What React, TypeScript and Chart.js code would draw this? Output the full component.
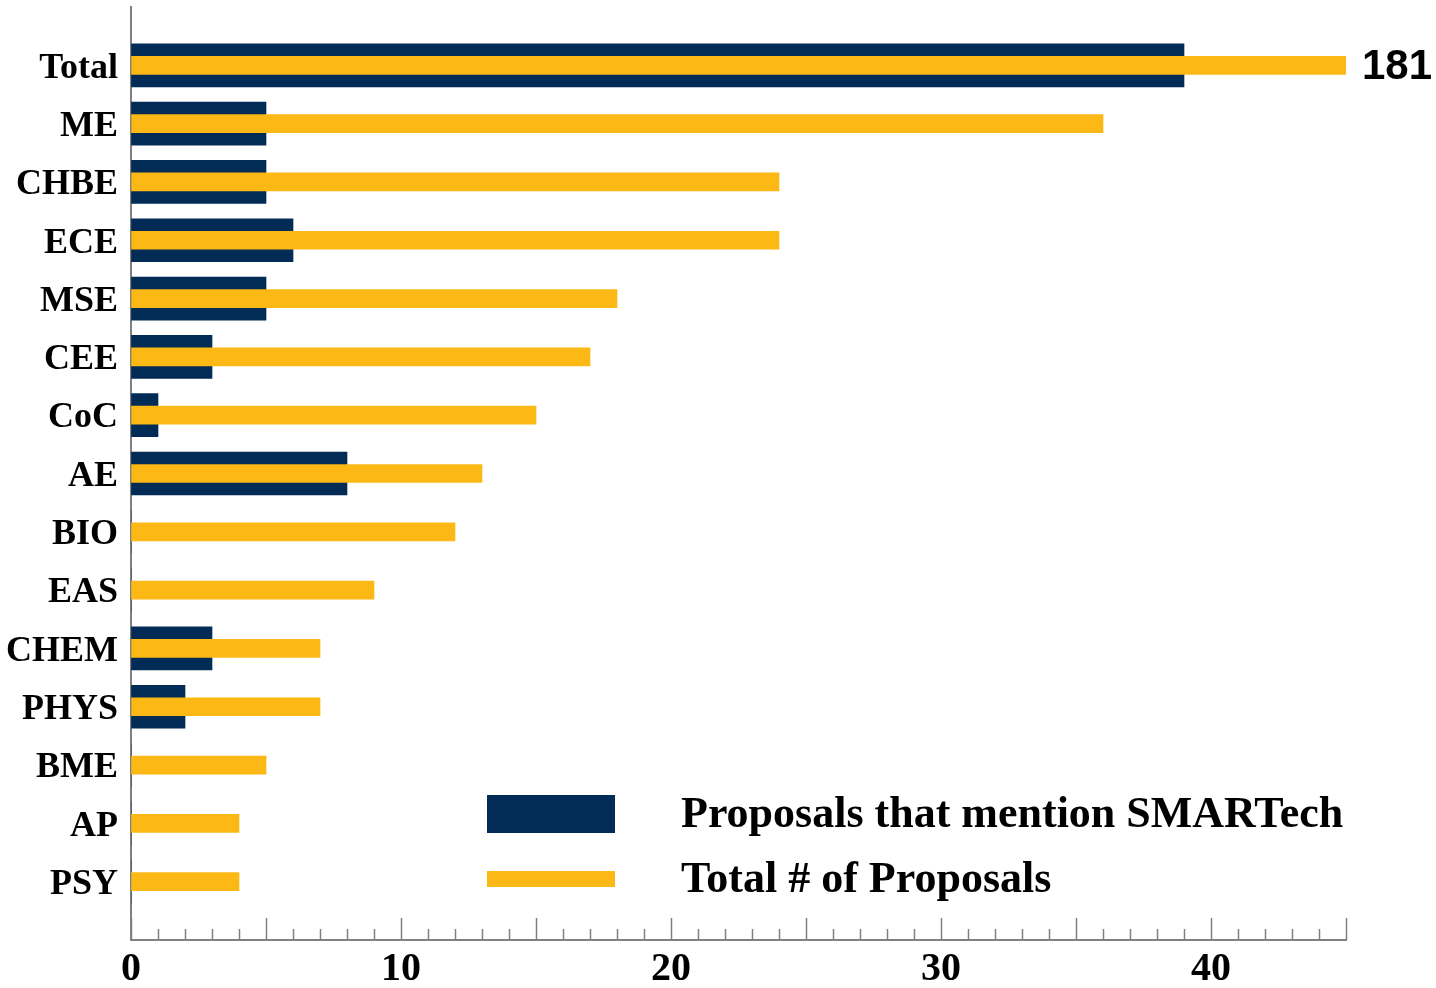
import React, { useEffect, useRef } from 'react';
import { Chart, registerables } from 'chart.js';

Chart.register(...registerables);

const categories = ['Total', 'ME', 'CHBE', 'ECE', 'MSE', 'CEE', 'CoC', 'AE', 'BIO', 'EAS', 'CHEM', 'PHYS', 'BME', 'AP', 'PSY'];
const smartechMentions = [39, 5, 5, 6, 5, 3, 1, 8, 0, 0, 3, 2, 0, 0, 0];
const totalProposals = [181, 36, 24, 24, 18, 17, 15, 13, 12, 9, 7, 7, 5, 4, 4];
const xTickLabels = [0, 10, 20, 30, 40];
const seriesNames = ['Proposals that mention SMARTech', 'Total # of Proposals'];

const NAVY = '#022B56';
const GOLD = '#FCB815';
const AXIS = '#808080';
const SERIF = "'Liberation Serif', 'Times New Roman', serif";

const tickMarksPlugin = {
  id: 'tickMarks',
  afterDraw(chart: any) {
    const scale = chart.scales.x;
    const ctx = chart.ctx;
    const bottom = chart.chartArea.bottom;
    ctx.save();
    ctx.strokeStyle = AXIS;
    ctx.lineWidth = 1.5;
    scale.ticks.forEach((t: any) => {
      const px = Math.round(scale.getPixelForValue(t.value)) + 0.5;
      const len = t.value % 5 === 0 ? 22 : 11;
      ctx.beginPath();
      ctx.moveTo(px, bottom);
      ctx.lineTo(px, bottom - len);
      ctx.stroke();
    });
    ctx.restore();
  },
};

const valueLabelPlugin = {
  id: 'valueLabel',
  afterDatasetsDraw(chart: any) {
    const ctx = chart.ctx;
    const meta = chart.getDatasetMeta(1);
    const ds = chart.data.datasets[1];
    meta.data.forEach((el: any, i: number) => {
      const v = ds.data[i];
      if (v == null) return;
      if (el.x > chart.chartArea.right) {
        ctx.save();
        ctx.font = "bold 42px 'Liberation Sans', Arial, sans-serif";
        ctx.fillStyle = '#000';
        ctx.textAlign = 'left';
        ctx.textBaseline = 'middle';
        ctx.fillText(String(v), chart.chartArea.right + 16, el.y + 2);
        ctx.restore();
      }
    });
  },
};

const legendPlugin = {
  id: 'customLegend',
  afterDraw(chart: any) {
    const ctx = chart.ctx;
    const items = [
      { ds: chart.data.datasets[0], boxH: 38, cy: 814 },
      { ds: chart.data.datasets[1], boxH: 16, cy: 879 },
    ];
    ctx.save();
    items.forEach((it) => {
      ctx.fillStyle = it.ds.backgroundColor;
      ctx.fillRect(487, it.cy - it.boxH / 2, 128, it.boxH);
      ctx.fillStyle = '#000';
      ctx.font = `bold 44px ${SERIF}`;
      ctx.textAlign = 'left';
      ctx.textBaseline = 'middle';
      ctx.fillText(it.ds.label, 681, it.cy + 2);
    });
    ctx.restore();
  },
};

export default function App() {
  const canvasRef = useRef<HTMLCanvasElement | null>(null);

  useEffect(() => {
    if (!canvasRef.current) return;
    const labels = ['', ...categories, ''];
    const chart = new Chart(canvasRef.current, {
      type: 'bar',
      data: {
        labels,
        datasets: [
          {
            label: seriesNames[0],
            data: [null, ...smartechMentions, null],
            backgroundColor: NAVY,
            barThickness: 43,
            grouped: false,
            order: 2,
          } as any,
          {
            label: seriesNames[1],
            data: [null, ...totalProposals, null],
            backgroundColor: GOLD,
            barThickness: 18,
            grouped: false,
            order: 1,
          } as any,
        ],
      },
      options: {
        indexAxis: 'y',
        responsive: false,
        animation: false,
        devicePixelRatio: 1,
        layout: { padding: { top: 7, right: 90, left: 0, bottom: 0 } },
        plugins: {
          legend: { display: false },
          tooltip: { enabled: false },
        },
        scales: {
          x: {
            type: 'linear',
            position: 'bottom',
            min: 0,
            max: 45,
            grid: { display: true, drawOnChartArea: false, drawTicks: false },
            border: { display: true, color: AXIS, width: 2 },
            ticks: {
              stepSize: 1,
              autoSkip: false,
              maxRotation: 0,
              padding: 6,
              color: '#000',
              font: { family: SERIF, size: 40, weight: 'bold' },
              callback: (v: any) => (xTickLabels.includes(Number(v)) ? String(v) : ''),
            },
            afterFit: (s: any) => {
              s.height = 48;
              s.paddingLeft = 0;
              s.paddingRight = 0;
            },
          },
          y: {
            type: 'category',
            offset: false,
            grid: { display: true, drawOnChartArea: false, drawTicks: false },
            border: { display: true, color: AXIS, width: 2 },
            ticks: {
              autoSkip: false,
              padding: 13,
              labelOffset: 3,
              color: '#000',
              font: { family: SERIF, size: 36, weight: 'bold' },
            },
            afterFit: (s: any) => {
              s.width = 131;
              s.paddingTop = 0;
              s.paddingBottom = 0;
            },
          },
        },
      } as any,
      plugins: [tickMarksPlugin, valueLabelPlugin, legendPlugin],
    });
    return () => chart.destroy();
  }, []);

  return (
    <div style={{ position: 'absolute', left: 0, top: 0, width: 1436, height: 988, background: '#fff' }}>
      <canvas ref={canvasRef} width={1436} height={988} style={{ display: 'block' }} />
    </div>
  );
}
